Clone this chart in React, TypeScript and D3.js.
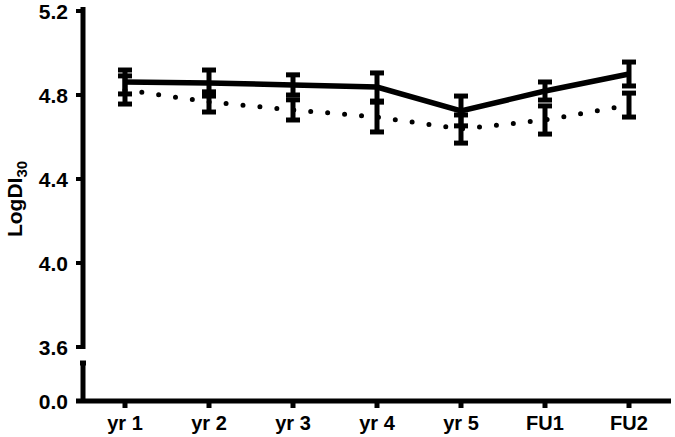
import React, { useEffect, useRef } from 'react';
import * as d3 from 'd3';

// values (LogDI30 per visit, two groups, mean ± SEM)
const categories = ['yr 1', 'yr 2', 'yr 3', 'yr 4', 'yr 5', 'FU1', 'FU2'];
const solidMean = [4.862, 4.857, 4.848, 4.838, 4.724, 4.819, 4.9];
const solidSem = [0.057, 0.062, 0.048, 0.067, 0.071, 0.043, 0.057];
const dottedMean = [4.824, 4.767, 4.729, 4.695, 4.638, 4.681, 4.752];
const dottedSem = [0.067, 0.048, 0.048, 0.071, 0.067, 0.067, 0.057];
const upperTicks = [3.6, 4.0, 4.4, 4.8, 5.2];
const lowerTicks = [0.0];

const App = () => {
  const svgRef = useRef(null);

  useEffect(() => {
    const width = 675;
    const height = 437;
    const axisX = 83;
    const font = "'Liberation Sans', Arial, sans-serif";

    const svg = d3.select(svgRef.current)
      .attr('width', width)
      .attr('height', height);
    svg.selectAll('*').remove();

    const xScale = d3.scaleBand().domain(categories).range([axisX, 671]);
    const yUpper = d3.scaleLinear().domain([3.6, 5.2]).range([347, 11]);
    const yLower = d3.scaleLinear().domain([0, 0.2]).range([401, 362]);
    const cx = (i) => xScale(categories[i]) + xScale.bandwidth() / 2;

    // y axis, broken in two pieces
    svg.append('line')
      .attr('x1', axisX).attr('x2', axisX)
      .attr('y1', yUpper(5.2) - 4).attr('y2', yUpper(3.6) + 2)
      .attr('stroke', '#000').attr('stroke-width', 5);
    svg.append('line')
      .attr('x1', axisX).attr('x2', axisX)
      .attr('y1', 362).attr('y2', yLower(0))
      .attr('stroke', '#000').attr('stroke-width', 5);
    // little cap at the break
    svg.append('line')
      .attr('x1', axisX - 3).attr('x2', axisX + 3)
      .attr('y1', 363).attr('y2', 363)
      .attr('stroke', '#000').attr('stroke-width', 5);

    const yTick = (y, t) => {
      svg.append('line')
        .attr('x1', axisX - 7).attr('x2', axisX)
        .attr('y1', y).attr('y2', y)
        .attr('stroke', '#000').attr('stroke-width', 4);
      svg.append('text')
        .attr('x', 68).attr('y', y)
        .attr('dy', '0.36em')
        .attr('text-anchor', 'end')
        .style('font-family', font).style('font-weight', 'bold').style('font-size', '21px')
        .text(t.toFixed(1));
    };
    upperTicks.forEach((t) => yTick(yUpper(t), t));
    lowerTicks.forEach((t) => yTick(yLower(t), t));

    // x axis
    svg.append('line')
      .attr('x1', axisX - 7).attr('x2', 671)
      .attr('y1', yLower(0)).attr('y2', yLower(0))
      .attr('stroke', '#000').attr('stroke-width', 5);
    categories.forEach((c, i) => {
      svg.append('line')
        .attr('x1', cx(i)).attr('x2', cx(i))
        .attr('y1', yLower(0)).attr('y2', yLower(0) + 7)
        .attr('stroke', '#000').attr('stroke-width', 5);
      svg.append('text')
        .attr('x', cx(i)).attr('y', 430)
        .attr('text-anchor', 'middle')
        .style('font-family', font).style('font-weight', 'bold').style('font-size', '20px')
        .text(c);
    });

    // y label
    const ylab = svg.append('text')
      .attr('transform', 'translate(22,199) rotate(-90)')
      .attr('text-anchor', 'middle')
      .style('font-family', font).style('font-weight', 'bold').style('font-size', '21px');
    ylab.append('tspan').text('LogDI');
    ylab.append('tspan').attr('dy', 5).style('font-size', '15px').text('30');

    const drawSeries = (mean, sem, dotted) => {
      const line = d3.line()
        .x((d, i) => cx(i))
        .y((d) => yUpper(d));
      svg.append('path')
        .datum(mean)
        .attr('d', line)
        .attr('fill', 'none')
        .attr('stroke', '#000')
        .attr('stroke-width', dotted ? 5 : 5.5)
        .attr('stroke-linecap', dotted ? 'round' : 'butt')
        .attr('stroke-dasharray', dotted ? '0 17' : null);

      mean.forEach((m, i) => {
        const top = yUpper(m + sem[i]);
        const bot = yUpper(m - sem[i]);
        svg.append('line')
          .attr('x1', cx(i)).attr('x2', cx(i))
          .attr('y1', top).attr('y2', bot)
          .attr('stroke', '#000').attr('stroke-width', 5);
        [top, bot].forEach((y) => {
          svg.append('line')
            .attr('x1', cx(i) - 7).attr('x2', cx(i) + 7)
            .attr('y1', y).attr('y2', y)
            .attr('stroke', '#000').attr('stroke-width', 5);
        });
      });
    };

    drawSeries(dottedMean, dottedSem, true);
    drawSeries(solidMean, solidSem, false);
  }, []);

  return <svg ref={svgRef} style={{ position: 'absolute', left: 0, top: 0 }}></svg>;
};

export default App;
